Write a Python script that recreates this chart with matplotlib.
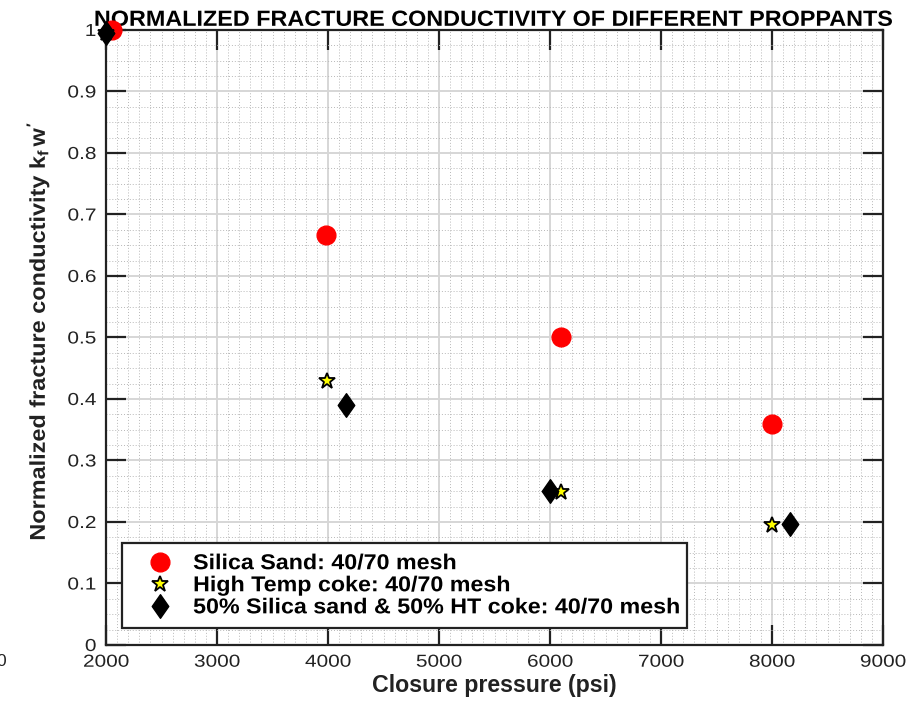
import matplotlib
matplotlib.use("Agg")
import matplotlib.pyplot as plt
from matplotlib.ticker import MultipleLocator
from matplotlib.patheffects import AbstractPathEffect
from matplotlib.transforms import Affine2D
from matplotlib.path import Path

plt.rcParams['font.family'] = ['Liberation Sans', 'DejaVu Sans']
plt.rcParams['mathtext.fontset'] = 'custom'
plt.rcParams['mathtext.rm'] = 'Liberation Sans:bold'
plt.rcParams['mathtext.it'] = 'Liberation Sans:bold'
plt.rcParams['mathtext.bf'] = 'Liberation Sans:bold'

# Closure pressure (psi) and normalized conductivity for each proppant
silica_p = [2050, 3980, 6100, 8000]
silica_k = [1.0, 0.667, 0.50, 0.36]

coke_p = [2000, 3990, 6100, 8000]
coke_k = [0.995, 0.43, 0.248, 0.195]

blend_p = [2000, 4165, 6000, 8160]
blend_k = [0.995, 0.39, 0.25, 0.197]

labels = ["Silica Sand: 40/70 mesh",
          "High Temp coke: 40/70 mesh",
          "50% Silica sand & 50% HT coke: 40/70 mesh"]


class WideText(AbstractPathEffect):
    """Draw text glyphs widened along the reading direction."""

    def __init__(self, sx, anchor='center'):
        super().__init__()
        self.sx = sx
        self.anchor = anchor

    def draw_path(self, renderer, gc, tpath, affine, rgbFace=None):
        v = tpath.vertices
        if self.anchor == 'left' or len(v) == 0:
            x0 = 0.0
        elif self.anchor == 'right':
            x0 = v[:, 0].max()
        else:
            x0 = 0.5 * (v[:, 0].min() + v[:, 0].max())
        widen = Affine2D().translate(-x0, 0).scale(self.sx, 1).translate(x0, 0)
        renderer.draw_path(gc, tpath, widen + affine, rgbFace)


# tall diamond marker
diamond = Path([(0, 1), (0.7, 0), (0, -1), (-0.7, 0), (0, 1)],
               [Path.MOVETO, Path.LINETO, Path.LINETO, Path.LINETO, Path.CLOSEPOLY])

fig = plt.figure(figsize=(9.18, 7.07), dpi=100)
ax = fig.add_axes([0.1155, 0.0877, 0.8464, 0.8699])

ax.plot(silica_p, silica_k, 'o', color='#ff0000', markeredgecolor='#ff0000',
        markersize=13.5, label=labels[0], clip_on=False, zorder=4)
ax.plot(coke_p, coke_k, '*', color='#ffff00', markeredgecolor='black',
        markeredgewidth=1.3, markersize=12, label=labels[1], clip_on=False, zorder=5)
ax.plot(blend_p, blend_k, linestyle='none', marker=diamond, color='black',
        markersize=17, label=labels[2], clip_on=False, zorder=6)

ax.set_xlim(2000, 9000)
ax.set_ylim(0, 1)
ax.xaxis.set_major_locator(MultipleLocator(1000))
ax.xaxis.set_minor_locator(MultipleLocator(100))
ax.yaxis.set_minor_locator(MultipleLocator(0.025))
ax.set_yticks([0, 0.1, 0.2, 0.3, 0.4, 0.5, 0.6, 0.7, 0.8, 0.9, 1.0])
ax.set_yticklabels(['0', '0.1', '0.2', '0.3', '0.4', '0.5', '0.6', '0.7',
                    '0.8', '0.9', '1'])

ax.grid(True, which='major', color='#d6d6d6', linewidth=1.4, linestyle='-')
ax.grid(True, which='minor', color='#b8b8b8', linewidth=0.7, linestyle=(0, (1, 2)))
ax.set_axisbelow(True)

ax.tick_params(which='major', direction='in', length=14.5, width=1.6,
               top=True, right=True, labelsize=12.5, pad=7, color='#222222',
               labelcolor='#222222')
ax.tick_params(which='minor', length=0)
for sp in ax.spines.values():
    sp.set_linewidth(1.6)
    sp.set_color('#222222')

title = ax.set_title("NORMALIZED FRACTURE CONDUCTIVITY OF DIFFERENT PROPPANTS",
                     fontsize=15.8, fontweight='bold', pad=3)
title.set_path_effects([WideText(1.065, 'center')])

ax.set_xlabel("Closure pressure (psi)", fontsize=16.7, fontweight='bold',
              color='#222222')
ax.xaxis.set_label_coords(0.5, -0.047)

yl = ax.set_ylabel(r"Normalized fracture conductivity $k_f\,w^{\prime}$",
                   fontsize=15.5, fontweight='bold', color='#222222')
ax.yaxis.set_label_coords(-0.0695, 0.51)
yl.set_path_effects([WideText(1.09, 'center')])

leg = ax.legend(loc='lower left', bbox_to_anchor=(0.0206, 0.0276, 0.727, 0.13),
                mode='expand', borderaxespad=0, fancybox=False, framealpha=1,
                edgecolor='#222222', prop={'weight': 'bold', 'size': 15.5},
                handletextpad=0.25, borderpad=0.45, labelspacing=0.05,
                handlelength=2.6)
leg.get_frame().set_linewidth(1.6)
for t in leg.get_texts():
    t.set_path_effects([WideText(1.08, 'left')])

fig.text(-0.004, 1 - 662 / 707, "0", fontsize=12.5, ha='left', va='center',
         color='#222222')

fig.canvas.draw()
for lbl in ax.get_xticklabels():
    lbl.set_path_effects([WideText(1.2, 'center')])
for lbl in ax.get_yticklabels():
    lbl.set_path_effects([WideText(1.2, 'right')])

fig.savefig("out.png", dpi=100)
